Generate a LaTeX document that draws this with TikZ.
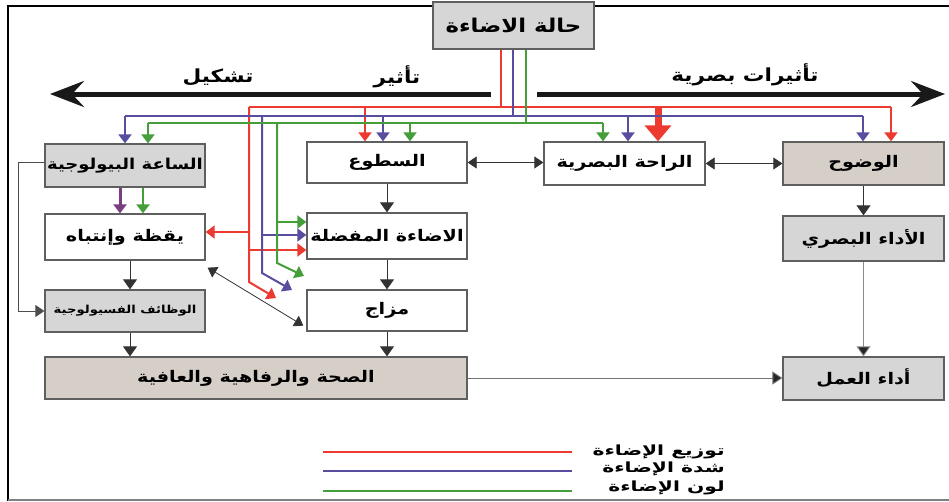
\documentclass[tikz,border=0pt]{standalone}
\usepackage{fontspec}
\newfontfamily\arfont[Script=Arabic,FakeStretch=1.2]{DejaVu Sans}
\newfontfamily\arwide[Script=Arabic,FakeStretch=1.45]{DejaVu Sans}
\TeXXeTstate=1
\usetikzlibrary{arrows.meta,calc}
\newcommand\AR[1]{{\arfont\bfseries\beginR #1\endR}}
\newcommand\ARW[1]{{\arwide\bfseries\beginR #1\endR}}
\definecolor{boxc}{RGB}{95,95,95}
\definecolor{boxg}{RGB}{214,214,214}
\definecolor{boxb}{RGB}{214,207,200}
\definecolor{redc}{RGB}{236,58,48}
\definecolor{bluec}{RGB}{88,78,160}
\definecolor{greenc}{RGB}{68,158,58}
\begin{document}
\begin{tikzpicture}[x=1pt,y=-1pt,
  box/.style={draw=boxc, line width=1.3pt, minimum width=160pt, inner sep=0pt, fill=white, font=\fontsize{16}{18}\selectfont},
  graybox/.style={box, fill=boxg},
  beigebox/.style={box, fill=boxb},
  lbl/.style={inner sep=0pt, font=\fontsize{18}{20}\selectfont},
  leg/.style={inner sep=0pt, anchor=east, font=\fontsize{14}{15}\selectfont},
  rl/.style={draw=redc, line width=2pt},
  bl/.style={draw=bluec, line width=2pt},
  gl/.style={draw=greenc, line width=2pt},
  arr/.style={-{Triangle[width=13pt,length=9pt]}},
  blk/.style={draw=black!80, line width=0.8pt},
  blkarr/.style={blk, -{Triangle[width=14pt,length=10pt]}},
  dbl/.style={blk, {Triangle[width=12pt,length=9pt]}-{Triangle[width=12pt,length=9pt]}},
  bigarr/.style={draw=black!90, line width=5pt, -{Stealth[length=34pt,width=26pt,inset=12pt]}}
]
\useasboundingbox (0,0) rectangle (949,501);
% frame
\draw[line width=2pt] (8,501) -- (8,6) -- (949,6);
\draw[gray, line width=1.5pt] (8,500) -- (949,500);

% nodes
\node[graybox, minimum width=161pt, minimum height=47pt, font=\fontsize{19}{21}\selectfont] (top) at (513.5,25.5) {\AR{حالة الاضاءة}};
\node[graybox, minimum height=43pt, font=\fontsize{15}{17}\selectfont] (clock) at (125,165.5) {\AR{الساعة البيولوجية}};
\node[box, minimum height=46pt] (yaq) at (125,237) {\AR{يقظة وإنتباه}};
\node[graybox, minimum height=42pt, font=\fontsize{11}{12}\selectfont] (wad) at (125,311) {\AR{الوظائف الفسيولوجية}};
\node[beigebox, minimum width=422pt, minimum height=42pt] (sihha) at (256,378) {\AR{الصحة والرفاهية والعافية}};
\node[box, minimum height=41pt] (sutu) at (387,162.5) {\AR{السطوع}};
\node[box, minimum height=46pt] (muf) at (387,236) {\AR{الاضاءة المفضلة}};
\node[box, minimum height=41pt] (mizaj) at (387,310.5) {\AR{مزاج}};
\node[box, minimum width=161pt, minimum height=43pt] (raha) at (624.5,163.5) {\AR{الراحة البصرية}};
\node[beigebox, minimum width=161pt, minimum height=43pt] (wud) at (863.5,163.5) {\AR{الوضوح}};
\node[graybox, minimum width=161pt, minimum height=45pt] (adaaB) at (863.5,238.5) {\AR{الأداء البصري}};
\node[graybox, minimum width=161pt, minimum height=43pt] (amal) at (863.5,378.5) {\AR{أداء العمل}};

% labels on the big arrows
\node[lbl] (tashkil) at (218,77) {\AR{تشكيل}};
\node[lbl] (taathir) at (397,77) {\AR{تأثير}};
\node[lbl] (basari) at (745,75) {\AR{تأثيرات بصرية}};

% big black arrows
\coordinate (bkL) at (491,94);
\coordinate (bkLe) at (50,94);
\coordinate (bkR) at (537,94);
\coordinate (bkRe) at (945,94);
\draw[bigarr] (bkL) -- (bkLe);
\draw[bigarr] (bkR) -- (bkRe);

% red network
\coordinate (rT) at (501,107);
\coordinate (rL) at (249,107);
\coordinate (rR) at (891,107);
\coordinate (rS) at (365,107);
\coordinate (rB) at (658,107);
\coordinate (rV1) at (249,232);
\coordinate (rV2) at (249,250);
\coordinate (rBend) at (249,282);
\coordinate (rTip) at (276,298);
\draw[rl] (top.south -| rT) -- (rT);
\draw[rl] (rL) -- (rR);
\draw[rl,arr] (rR) -- (rR |- wud.north);
\draw[rl,arr] (rS) -- (rS |- sutu.north);
\draw[draw=redc, line width=7pt, -{Triangle[width=26pt,length=16pt]}] (rB) -- (rB |- raha.north);
\draw[rl,arr] (rL) -- (rBend) -- (rTip);
\draw[rl,arr] (rV1) -- (rV1 -| yaq.east);
\draw[rl,arr] (rV2) -- (rV2 -| muf.west);

% blue network
\coordinate (bT) at (513,116);
\coordinate (bL) at (125,116);
\coordinate (bR) at (863,116);
\coordinate (bS) at (383,116);
\coordinate (bRa) at (628,116);
\coordinate (bV) at (262,116);
\coordinate (bV1) at (262,235);
\coordinate (bBend) at (262,273);
\coordinate (bTip) at (292,290);
\draw[bl] (top.south -| bT) -- (bT);
\draw[bl] (bL) -- (bR);
\draw[bl,arr] (bL) -- (bL |- clock.north);
\draw[bl,arr] (bS) -- (bS |- sutu.north);
\draw[bl,arr] (bRa) -- (bRa |- raha.north);
\draw[bl,arr] (bR) -- (bR |- wud.north);
\draw[bl,arr] (bV) -- (bBend) -- (bTip);
\draw[bl,arr] (bV1) -- (bV1 -| muf.west);

% green network
\coordinate (gT) at (526,123);
\coordinate (gL) at (148,123);
\coordinate (gR) at (603,123);
\coordinate (gS) at (410,123);
\coordinate (gV) at (277,123);
\coordinate (gV1) at (277,222);
\coordinate (gBend) at (277,263);
\coordinate (gTip) at (304,276);
\draw[gl] (top.south -| gT) -- (gT);
\draw[gl] (gL) -- (gR);
\draw[gl,arr] (gL) -- (gL |- clock.north);
\draw[gl,arr] (gS) -- (gS |- sutu.north);
\draw[gl,arr] (gR) -- (gR |- raha.north);
\draw[gl,arr] (gV) -- (gBend) -- (gTip);
\draw[gl,arr] (gV1) -- (gV1 -| muf.west);

% clock to alertness
\draw[draw=bluec!80!red, line width=3pt, arr] ($(clock.south)+(-5,0)$) -- ($(yaq.north)+(-5,0)$);
\draw[gl, line width=2.5pt, arr] ($(clock.south)+(18,0)$) -- ($(yaq.north)+(18,0)$);

% black connectors
\coordinate (ySo) at ($(yaq.south)+(5,0)$);
\coordinate (wSo) at ($(wad.south)+(5,0)$);
\draw[blkarr] (sutu.south) -- (muf.north);
\draw[blkarr] (muf.south) -- (mizaj.north);
\draw[blkarr] (mizaj.south) -- (mizaj.south |- sihha.north);
\draw[blkarr] (ySo) -- (ySo |- wad.north);
\draw[blkarr] (wSo) -- (wSo |- sihha.north);
\draw[blkarr] (wud.south) -- (adaaB.north);
\draw[draw=black!45, line width=0.9pt, -{Triangle[width=14pt,length=10pt,fill=black!85]}] (adaaB.south) -- (amal.north);
\draw[draw=black!55, line width=0.9pt, -{Triangle[width=13pt,length=10pt,fill=black!85]}] (sihha.east) -- (sihha.east -| amal.west);
\draw[dbl] (sutu.east) -- (sutu.east -| raha.west);
\draw[dbl] (raha.east) -- (raha.east -| wud.west);
\draw[dbl] ($(yaq.south east)+(2,7)$) -- ($(mizaj.south west)+(-3,-6)$);
\coordinate (loopX) at (18,162);
\draw[draw=black!70, line width=0.9pt, -{Triangle[width=12pt,length=9pt]}] ($(clock.west)+(0,-3.5)$) -- (loopX) |- (wad.west);

% legend
\coordinate (lr1) at (323,452); \coordinate (lr2) at (572,452);
\coordinate (lb1) at (323,471); \coordinate (lb2) at (572,471);
\coordinate (lg1) at (323,491); \coordinate (lg2) at (572,491);
\draw[draw=redc, line width=1.6pt] (lr1) -- (lr2);
\draw[draw=bluec, line width=1.6pt] (lb1) -- (lb2);
\draw[draw=greenc, line width=1.6pt] (lg1) -- (lg2);
\node[leg] (legr) at (725,452) {\ARW{توزيع الإضاءة}};
\node[leg] (legb) at (725,469) {\ARW{شدة الإضاءة}};
\node[leg] (legg) at (725,488) {\ARW{لون الإضاءة}};
\end{tikzpicture}
\end{document}
